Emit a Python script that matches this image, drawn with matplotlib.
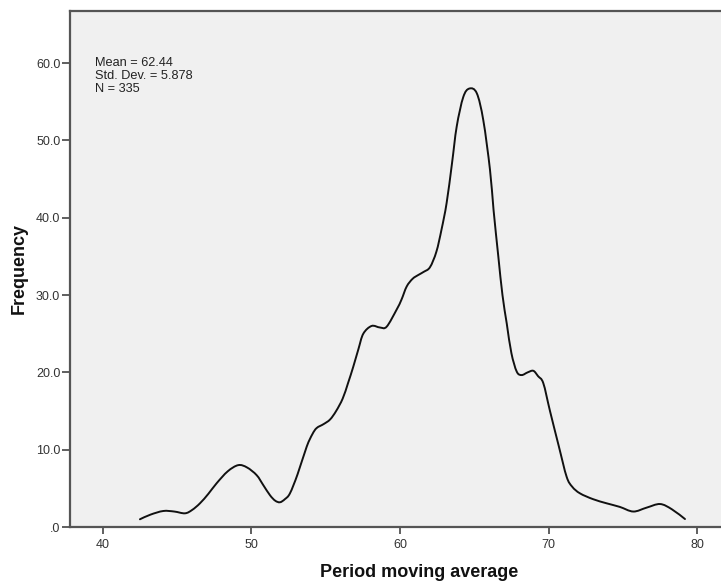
import matplotlib
matplotlib.use("Agg")
import matplotlib.pyplot as plt
import numpy as np
from matplotlib.path import Path
from matplotlib.patches import PathPatch

# density curve (Period moving average vs Frequency)
period = [42.49, 43.2, 44.06, 44.8, 45.52, 46.0, 46.53, 47.1, 47.65, 48.4,
          49.11, 49.7, 50.35, 50.8, 51.25, 51.6, 51.92, 52.25, 52.59, 53.1,
          53.72, 54.1, 54.39, 54.85, 55.29, 55.7, 56.14, 56.5, 56.85, 57.2,
          57.53, 58.09, 58.65, 59.1, 59.77, 60.1, 60.45, 60.85, 61.24, 61.6,
          62.02, 62.45, 62.8, 63.14, 63.5, 63.82, 64.26, 64.67, 65.17,
          65.61, 66.06, 66.3, 66.62, 66.9, 67.19, 67.5, 67.86, 68.19, 68.6,
          68.98, 69.3, 69.65, 70.1, 70.7, 71.22, 71.6, 72.12, 73.0, 73.92,
          74.8, 75.71, 76.6, 77.51, 78.3, 79.19]
frequency = [1.0, 1.6, 2.07, 2.0, 1.77, 2.2, 3.06, 4.3, 5.65, 7.2,
             8.0, 7.7, 6.7, 5.4, 4.1, 3.4, 3.2, 3.6, 4.35, 6.8,
             10.4, 12.0, 12.8, 13.3, 13.9, 15.0, 16.6, 18.6, 20.7, 23.0,
             25.0, 26.0, 25.8, 25.9, 28.1, 29.4, 31.1, 32.1, 32.6, 33.0,
             33.6, 35.6, 38.5, 41.9, 47.0, 51.8, 55.6, 56.7, 56.1,
             52.6, 46.2, 41.0, 35.0, 30.0, 26.3, 22.5, 20.1, 19.65, 20.0,
             20.2, 19.5, 18.6, 15.0, 10.4, 6.5, 5.2, 4.35, 3.6, 3.06,
             2.6, 2.0, 2.5, 2.97, 2.3, 1.03]

xticks = [40, 50, 60, 70, 80]
yticks = [0, 10, 20, 30, 40, 50, 60]
ytick_labels = [".0", "10.0", "20.0", "30.0", "40.0", "50.0", "60.0"]
stats_text = "Mean = 62.44\nStd. Dev. = 5.878\nN = 335"

plt.rcParams['font.family'] = ['Liberation Sans', 'DejaVu Sans']

fig = plt.figure(figsize=(7.21, 5.81), dpi=100)
# plot area runs past the right edge of the picture (it is cropped there)
ax = fig.add_axes([70 / 721, 1 - 527 / 581, 698 / 721, 516 / 581])
ax.set_facecolor("#f0f0f0")


def smooth_path(xs, ys):
    # catmull-rom through the read points, drawn as cubic bezier segments
    pts = np.column_stack([xs, ys])
    n = len(pts)
    verts = [tuple(pts[0])]
    codes = [Path.MOVETO]
    for i in range(n - 1):
        p0 = pts[max(i - 1, 0)]
        p1 = pts[i]
        p2 = pts[i + 1]
        p3 = pts[min(i + 2, n - 1)]
        verts += [tuple(p1 + (p2 - p0) / 6), tuple(p2 - (p3 - p1) / 6), tuple(p2)]
        codes += [Path.CURVE4] * 3
    return Path(verts, codes)


ax.add_patch(PathPatch(smooth_path(period, frequency), fill=False,
                       edgecolor="#111111", lw=1.4, capstyle="round"))

ax.set_xlim(37.78, 84.78)
ax.set_ylim(0, 66.73)
ax.set_xticks(xticks)
ax.set_yticks(yticks)
ax.set_yticklabels(ytick_labels)

for side in ["left", "bottom", "top", "right"]:
    ax.spines[side].set_color("#555555")
    ax.spines[side].set_linewidth(1.6)

ax.tick_params(axis="both", direction="out", colors="#444444",
               labelcolor="#333333", labelsize=9, width=1.2)
ax.tick_params(axis="y", length=6, pad=1)
ax.tick_params(axis="x", length=5, pad=4)

ax.set_xlabel("Period moving average", fontsize=13, fontweight="bold",
              color="#111111", labelpad=9)
ax.set_ylabel("Frequency", fontsize=13, fontweight="bold",
              color="#111111", labelpad=6)

ax.text(25 / 698, 0.91, stats_text, transform=ax.transAxes, fontsize=9.2,
        color="#222222", va="top", ha="left", linespacing=1.08)

fig.savefig("out.png", dpi=100, facecolor="white")
